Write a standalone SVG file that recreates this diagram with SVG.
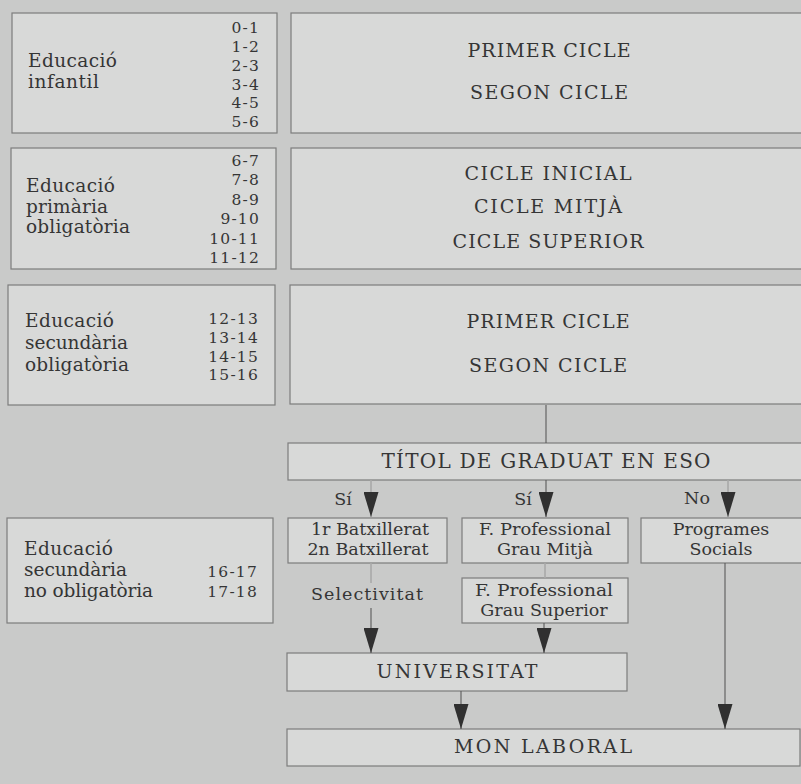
<svg xmlns="http://www.w3.org/2000/svg" width="801" height="784" viewBox="0 0 801 784">
<defs>
<style>
.bg{fill:#c9cac9}
.box{fill:#d8d9d8;stroke:#7c7c7c;stroke-width:1.2}
text{font-family:"DejaVu Serif","Liberation Serif",serif;fill:#353535}
.lbl{font-size:18.5px}
.num{font-size:15.5px;letter-spacing:1.2px;text-anchor:end}
.cap{font-size:19px;text-anchor:middle}
.sm{font-size:17.5px;text-anchor:middle}
.dk{fill:none;stroke:#5a5a5a;stroke-width:1.1}
.lt{fill:none;stroke:#a9a9a9;stroke-width:1.6}
</style>
<marker id="ah" viewBox="0 0 25 15" markerWidth="25" markerHeight="15" markerUnits="userSpaceOnUse" refX="25" refY="7.5" orient="auto">
<path d="M0,0 L25,7.5 L0,15 Z" fill="#303030"/>
</marker>
</defs>
<rect class="bg" x="0" y="0" width="801" height="784"/>

<g id="infantil-etapa">
<rect class="box" x="12" y="13" width="265" height="120"/>
<text class="lbl"><tspan x="28" y="67" textLength="89" lengthAdjust="spacing">Educació</tspan><tspan x="28" y="88" textLength="71" lengthAdjust="spacing">infantil</tspan></text>
<text class="num"><tspan x="260" y="33">0-1</tspan><tspan x="260" y="52">1-2</tspan><tspan x="260" y="71">2-3</tspan><tspan x="260" y="90">3-4</tspan><tspan x="260" y="108">4-5</tspan><tspan x="260" y="127">5-6</tspan></text>
</g>
<g id="infantil-cicles">
<rect class="box" x="291" y="13" width="515" height="120"/>
<text class="cap" x="549" y="57" textLength="163" lengthAdjust="spacing">PRIMER CICLE</text>
<text class="cap" x="549" y="99" textLength="158" lengthAdjust="spacing">SEGON CICLE</text>
</g>

<g id="primaria-etapa">
<rect class="box" x="11" y="148" width="265" height="121"/>
<text class="lbl"><tspan x="26" y="192" textLength="89" lengthAdjust="spacing">Educació</tspan><tspan x="26" y="213" textLength="82" lengthAdjust="spacing">primària</tspan><tspan x="26" y="233" textLength="104" lengthAdjust="spacing">obligatòria</tspan></text>
<text class="num"><tspan x="260" y="166">6-7</tspan><tspan x="260" y="185">7-8</tspan><tspan x="260" y="205">8-9</tspan><tspan x="260" y="224">9-10</tspan><tspan x="260" y="244">10-11</tspan><tspan x="260" y="263">11-12</tspan></text>
</g>
<g id="primaria-cicles">
<rect class="box" x="291" y="148" width="515" height="121"/>
<text class="cap" x="548" y="180" textLength="167" lengthAdjust="spacing">CICLE INICIAL</text>
<text class="cap" x="548" y="213" textLength="148" lengthAdjust="spacing">CICLE MITJÀ</text>
<text class="cap" x="548" y="248" textLength="191" lengthAdjust="spacing">CICLE SUPERIOR</text>
</g>

<g id="eso-etapa">
<rect class="box" x="8" y="285" width="267" height="120"/>
<text class="lbl"><tspan x="25" y="327" textLength="89" lengthAdjust="spacing">Educació</tspan><tspan x="25" y="349" textLength="103" lengthAdjust="spacing">secundària</tspan><tspan x="25" y="371" textLength="104" lengthAdjust="spacing">obligatòria</tspan></text>
<text class="num"><tspan x="259" y="324">12-13</tspan><tspan x="259" y="343">13-14</tspan><tspan x="259" y="362">14-15</tspan><tspan x="259" y="380">15-16</tspan></text>
</g>
<g id="eso-cicles">
<rect class="box" x="290" y="285" width="516" height="119"/>
<text class="cap" x="548" y="328" textLength="163" lengthAdjust="spacing">PRIMER CICLE</text>
<text class="cap" x="548" y="372" textLength="158" lengthAdjust="spacing">SEGON CICLE</text>
</g>

<g id="titol">
<rect class="box" x="288" y="443" width="518" height="37"/>
<text class="cap" x="546" y="468" textLength="329" lengthAdjust="spacing" style="font-size:20px">TÍTOL DE GRADUAT EN ESO</text>
</g>

<g id="postobligatoria-etapa">
<rect class="box" x="7" y="518" width="266" height="105"/>
<text class="lbl"><tspan x="24" y="555" textLength="89" lengthAdjust="spacing">Educació</tspan><tspan x="24" y="576" textLength="103" lengthAdjust="spacing">secundària</tspan><tspan x="24" y="597" textLength="129" lengthAdjust="spacing">no obligatòria</tspan></text>
<text class="num"><tspan x="258" y="577">16-17</tspan><tspan x="258" y="597">17-18</tspan></text>
</g>

<g id="batxillerat">
<rect class="box" x="288" y="518" width="159" height="45"/>
<text class="sm"><tspan x="370" y="535">1r Batxillerat</tspan><tspan x="368" y="555">2n Batxillerat</tspan></text>
</g>
<g id="fp-grau-mitja">
<rect class="box" x="462" y="518" width="166" height="45"/>
<text class="sm"><tspan x="545" y="535" textLength="132" lengthAdjust="spacingAndGlyphs">F. Professional</tspan><tspan x="545" y="555">Grau Mitjà</tspan></text>
</g>
<g id="programes-socials">
<rect class="box" x="641" y="518" width="165" height="45"/>
<text class="sm"><tspan x="721" y="535">Programes</tspan><tspan x="721" y="555">Socials</tspan></text>
</g>
<g id="fp-grau-superior">
<rect class="box" x="462" y="578" width="166" height="45"/>
<text class="sm"><tspan x="544" y="596" textLength="138" lengthAdjust="spacingAndGlyphs">F. Professional</tspan><tspan x="544" y="616">Grau Superior</tspan></text>
</g>
<g id="universitat">
<rect class="box" x="287" y="653" width="340" height="38"/>
<text class="cap" x="457" y="678" textLength="161" lengthAdjust="spacing">UNIVERSITAT</text>
</g>
<g id="mon-laboral">
<rect class="box" x="287" y="729" width="513" height="37"/>
<text class="cap" x="543" y="753" textLength="178" lengthAdjust="spacing">MON LABORAL</text>
</g>

<g id="connectors">
<path class="dk" d="M546,405 V443"/>
<path class="lt" d="M371,480 V517" marker-end="url(#ah)"/>
<path class="dk" d="M546,480 V517" marker-end="url(#ah)"/>
<path class="lt" d="M728,480 V517" marker-end="url(#ah)"/>
<path class="lt" d="M371,563 V583"/>
<path class="dk" d="M371,608 V653" marker-end="url(#ah)"/>
<path class="lt" d="M545,563 V578"/>
<path class="dk" d="M544,623 V653" marker-end="url(#ah)"/>
<path class="dk" d="M461,691 V729" marker-end="url(#ah)"/>
<path class="dk" d="M725,563 V729" marker-end="url(#ah)"/>
<text class="sm" x="343" y="505">Sí</text>
<text class="sm" x="523" y="505">Sí</text>
<text class="sm" x="697" y="504">No</text>
<text class="sm" x="367" y="600" textLength="112" lengthAdjust="spacing">Selectivitat</text>
</g>
</svg>
